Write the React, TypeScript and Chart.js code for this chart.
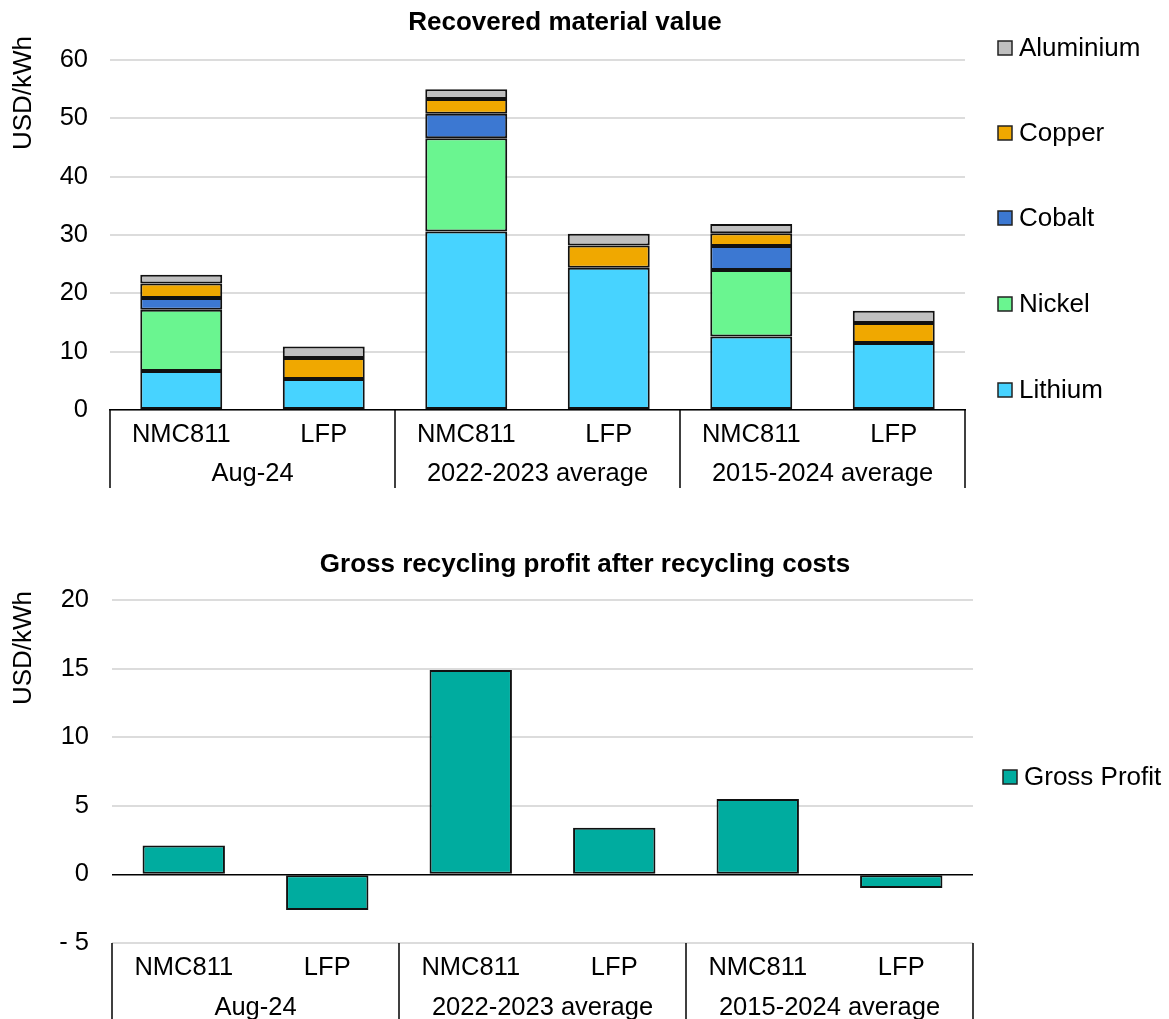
import React, { useEffect, useRef } from 'react';
import { Chart, registerables } from 'chart.js';

Chart.register(...registerables);

// ---------- data ----------
const categories = ['NMC811', 'LFP', 'NMC811', 'LFP', 'NMC811', 'LFP'];
const groups = ['Aug-24', '2022-2023 average', '2015-2024 average'];

const lithium = [6.7, 5.3, 30.6, 24.4, 12.6, 11.5];
const nickel = [10.5, null, 16.0, null, 11.4, null];
const cobalt = [2.0, null, 4.2, null, 4.1, null];
const copper = [2.5, 3.6, 2.5, 3.8, 2.2, 3.4];
const aluminium = [1.5, 2.0, 1.7, 2.0, 1.6, 2.1];

const grossProfit = [2.1, -2.6, 14.9, 3.4, 5.5, -1.0];

const topTitle = 'Recovered material value';
const bottomTitle = 'Gross recycling profit after recycling costs';
const yTitle = 'USD/kWh';

// ---------- styles ----------
const FONT = '"Liberation Sans", Arial, sans-serif';
const TICK_SIZE = 25.5;
const GRID = '#dcdcdc';

type DecorCfg = {
  title: string;
  titleX: number;
  titleY: number;
  yTitleX: number;
  yTitleY: number;
  sepLen: number;
  groupY: number;
  legendX: number;
  legendY: number[];
  reverseLegend: boolean;
};

const makeDecor = (cfg: DecorCfg) => ({
  id: 'decor',
  afterDraw(chart: any) {
    const ctx = chart.ctx as CanvasRenderingContext2D;
    const x = chart.scales.x;
    const { left, right } = chart.chartArea;
    ctx.save();
    ctx.fillStyle = '#000';
    ctx.textAlign = 'center';
    ctx.textBaseline = 'middle';

    // chart title
    ctx.font = `bold 26px ${FONT}`;
    ctx.fillText(cfg.title, cfg.titleX, cfg.titleY);

    // y-axis title
    ctx.save();
    ctx.translate(cfg.yTitleX, cfg.yTitleY);
    ctx.rotate(-Math.PI / 2);
    ctx.font = `26px ${FONT}`;
    ctx.fillText(yTitle, 0, 0);
    ctx.restore();

    // group separators
    const n = chart.data.labels.length;
    const bounds: number[] = [left];
    for (let i = 2; i < n; i += 2) {
      bounds.push((x.getPixelForTick(i - 1) + x.getPixelForTick(i)) / 2);
    }
    bounds.push(right);
    const top = x.top;
    ctx.strokeStyle = '#000';
    ctx.lineWidth = 1.5;
    bounds.forEach((b) => {
      ctx.beginPath();
      ctx.moveTo(b, top);
      ctx.lineTo(b, top + cfg.sepLen);
      ctx.stroke();
    });

    // group labels
    ctx.font = `${TICK_SIZE}px ${FONT}`;
    groups.forEach((g, i) => {
      ctx.fillText(g, (bounds[i] + bounds[i + 1]) / 2, top + cfg.groupY);
    });

    // legend
    const ds = chart.data.datasets.slice();
    if (cfg.reverseLegend) ds.reverse();
    ctx.textAlign = 'left';
    ctx.font = `26px ${FONT}`;
    ds.forEach((d: any, i: number) => {
      const cy = cfg.legendY[i];
      ctx.fillStyle = d.backgroundColor;
      ctx.fillRect(cfg.legendX, cy - 7, 14, 14);
      ctx.strokeStyle = '#222';
      ctx.lineWidth = 1.5;
      ctx.strokeRect(cfg.legendX, cy - 7, 14, 14);
      ctx.fillStyle = '#000';
      ctx.fillText(d.label, cfg.legendX + 21, cy + 1);
    });
    ctx.restore();
  },
});

function TopChart() {
  const ref = useRef<HTMLCanvasElement>(null);
  useEffect(() => {
    const series = [
      { label: 'Lithium', data: lithium, color: '#47D3FF' },
      { label: 'Nickel', data: nickel, color: '#6AF590' },
      { label: 'Cobalt', data: cobalt, color: '#3C78D2' },
      { label: 'Copper', data: copper, color: '#F0A800' },
      { label: 'Aluminium', data: aluminium, color: '#BFBFBF' },
    ];
    const chart = new Chart(ref.current!, {
      type: 'bar',
      data: {
        labels: categories,
        datasets: series.map((s) => ({
          label: s.label,
          data: s.data as any,
          backgroundColor: s.color,
          borderColor: '#111',
          borderWidth: 2,
          borderSkipped: false,
          categoryPercentage: 1,
          barPercentage: 0.575,
        })),
      },
      options: {
        responsive: false,
        animation: false,
        events: [],
        layout: { padding: { top: 60, right: 204, bottom: 10, left: 0 } },
        plugins: { legend: { display: false }, title: { display: false }, tooltip: { enabled: false } },
        scales: {
          x: {
            stacked: true,
            grid: { display: false, drawTicks: false },
            border: { display: true, color: '#000', width: 1.5 },
            ticks: { color: '#000', font: { family: FONT, size: TICK_SIZE }, padding: 10, maxRotation: 0, autoSkip: false },
            afterFit: (s: any) => { s.height = 80; },
          },
          y: {
            stacked: true,
            min: 0,
            max: 60,
            ticks: { stepSize: 10, color: '#000', font: { family: FONT, size: TICK_SIZE }, padding: 22 },
            grid: { color: GRID, lineWidth: 2, drawTicks: false },
            border: { display: false },
            afterFit: (s: any) => { s.width = 110; },
          },
        },
      },
      plugins: [
        makeDecor({
          title: topTitle,
          titleX: 565,
          titleY: 23,
          yTitleX: 24,
          yTitleY: 93,
          sepLen: 78,
          groupY: 64,
          legendX: 998,
          legendY: [48, 133, 218, 304, 390],
          reverseLegend: true,
        }),
      ],
    });
    return () => chart.destroy();
  }, []);
  return <canvas ref={ref} width={1169} height={500} style={{ display: 'block' }} />;
}

function BottomChart() {
  const ref = useRef<HTMLCanvasElement>(null);
  useEffect(() => {
    const chart = new Chart(ref.current!, {
      type: 'bar',
      data: {
        labels: categories,
        datasets: [
          {
            label: 'Gross Profit',
            data: grossProfit,
            backgroundColor: '#00AC9F',
            borderColor: '#111',
            borderWidth: 2,
            borderSkipped: false,
            categoryPercentage: 1,
            barPercentage: 0.574,
          },
        ],
      },
      options: {
        responsive: false,
        animation: false,
        events: [],
        layout: { padding: { top: 100, right: 196, bottom: 0, left: 0 } },
        plugins: { legend: { display: false }, title: { display: false }, tooltip: { enabled: false } },
        scales: {
          x: {
            grid: { display: false, drawTicks: false },
            border: { display: false },
            ticks: { color: '#000', font: { family: FONT, size: TICK_SIZE }, padding: 10, maxRotation: 0, autoSkip: false },
            afterFit: (s: any) => { s.height = 76; },
          },
          y: {
            min: -5,
            max: 20,
            ticks: {
              stepSize: 5,
              color: '#000',
              font: { family: FONT, size: TICK_SIZE },
              padding: 23,
              callback: (v: any) => (Number(v) < 0 ? '- ' + Math.abs(Number(v)) : String(v)),
            },
            grid: {
              color: (c: any) => (c.tick && c.tick.value === 0 ? '#000' : GRID),
              lineWidth: (c: any) => (c.tick && c.tick.value === 0 ? 1.5 : 2),
              drawTicks: false,
            },
            border: { display: false },
            afterFit: (s: any) => { s.width = 112; },
          },
        },
      },
      plugins: [
        makeDecor({
          title: bottomTitle,
          titleX: 585,
          titleY: 65,
          yTitleX: 24,
          yTitleY: 148,
          sepLen: 80,
          groupY: 65,
          legendX: 1003,
          legendY: [277],
          reverseLegend: false,
        }),
      ],
    });
    return () => chart.destroy();
  }, []);
  return <canvas ref={ref} width={1169} height={519} style={{ display: 'block' }} />;
}

export default function App() {
  return (
    <div style={{ position: 'absolute', left: 0, top: 0, width: 1169, height: 1019, background: '#fff' }}>
      <TopChart />
      <BottomChart />
    </div>
  );
}
